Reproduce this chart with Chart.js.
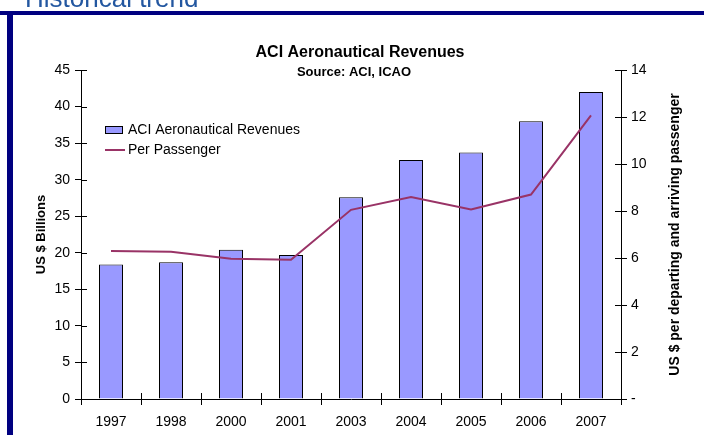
<!DOCTYPE html>
<html>
<head>
<meta charset="utf-8">
<title>ACI Aeronautical Revenues</title>
<script src="https://cdn.jsdelivr.net/npm/chart.js@4/dist/chart.umd.min.js"></script>
<style>
  body { margin: 0; background: #fff; }
  #wrap { position: relative; width: 704px; height: 435px; overflow: hidden; font-family: "Liberation Sans", Arial, sans-serif; }
  #head { position: absolute; left: 25px; top: -15px; font-size: 26px; line-height: 26px; color: #2357a0; white-space: nowrap; }
  #hbar { position: absolute; left: 0; top: 11px; width: 704px; height: 4px; background: #000080; }
  #vbar { position: absolute; left: 7px; top: 11px; width: 6px; height: 424px; background: #000080; }
  #chart { position: absolute; left: 0; top: 0; }
</style>
</head>
<body>
<div id="wrap">
  <canvas id="chart" width="704" height="435"></canvas>
  <div id="head">Historical trend</div>
  <div id="hbar"></div>
  <div id="vbar"></div>
</div>
<script>
// chart data
var years = ['1997', '1998', '2000', '2001', '2003', '2004', '2005', '2006', '2007'];
var revenues = [18.4, 18.7, 20.4, 19.7, 27.6, 32.7, 33.7, 38.0, 42.0];      // US $ billions
var perPassenger = [6.3, 6.27, 5.97, 5.93, 8.05, 8.59, 8.06, 8.7, 12.07];    // US $ per passenger
var leftTicks = [0, 45, 5];   // min, max, step
var rightTicks = [0, 14, 2];

var chartTitle = 'ACI Aeronautical Revenues';
var chartSubtitle = 'Source: ACI, ICAO';
var leftTitle = 'US $ Billions';
var rightTitle = 'US $ per departing and arriving passenger';

var FONT = '"Liberation Sans", Arial, sans-serif';
var TICK = 6;

// titles, legend and right axis title are drawn in the plot like Excel does
var decorations = {
    id: 'decorations',
    afterDatasetsDraw: function(chart) {
        var ctx = chart.ctx;
        var a = chart.chartArea;
        var x = chart.scales.x, y = chart.scales.y, y1 = chart.scales.y1;

        ctx.save();
        ctx.strokeStyle = '#000';
        ctx.lineWidth = 1;
        ctx.beginPath();
        // inside half of the tick marks
        y.ticks.forEach(function(t, i) {
            var p = Math.round(y.getPixelForTick(i)) + 0.5;
            ctx.moveTo(a.left, p); ctx.lineTo(a.left + TICK, p);
        });
        y1.ticks.forEach(function(t, i) {
            var p = Math.round(y1.getPixelForTick(i)) + 0.5;
            ctx.moveTo(a.right, p); ctx.lineTo(a.right - TICK, p);
        });
        var half = (x.getPixelForTick(1) - x.getPixelForTick(0)) / 2;
        for (var i = 0; i <= x.ticks.length; i++) {
            var p = Math.round(x.getPixelForTick(0) - half + i * half * 2) + 0.5;
            ctx.moveTo(p, a.bottom); ctx.lineTo(p, a.bottom - TICK);
        }
        ctx.stroke();

        // title
        ctx.fillStyle = '#000';
        ctx.textAlign = 'center';
        ctx.textBaseline = 'middle';
        ctx.font = 'bold 16px ' + FONT;
        ctx.fillText(chartTitle, 360, 53);
        ctx.font = 'bold 13px ' + FONT;
        ctx.fillText(chartSubtitle, 354, 72);

        // right axis title, reading upwards
        ctx.save();
        ctx.translate(675, (a.top + a.bottom) / 2);
        ctx.rotate(-Math.PI / 2);
        ctx.font = 'bold 14px ' + FONT;
        ctx.fillText(rightTitle, 0, 0);
        ctx.restore();

        // legend
        var ds = chart.data.datasets;
        var lx = a.left + 24, ly = a.top + 60;
        ctx.textAlign = 'left';
        ctx.font = '14px ' + FONT;
        ctx.fillStyle = ds[0].backgroundColor;
        ctx.fillRect(lx, ly - 3.5, 18, 7);
        ctx.strokeStyle = ds[0].borderColor;
        ctx.strokeRect(lx + 0.5, ly - 3.5, 17, 7);
        ctx.fillStyle = '#000';
        ctx.fillText(ds[0].label, lx + 23, ly);
        ly += 20;
        ctx.strokeStyle = ds[1].borderColor;
        ctx.lineWidth = 2;
        ctx.beginPath();
        ctx.moveTo(lx, ly); ctx.lineTo(lx + 20, ly);
        ctx.stroke();
        ctx.fillText(ds[1].label, lx + 23, ly);
        ctx.restore();
    }
};

var ctx = document.getElementById('chart').getContext('2d');
new Chart(ctx, {
    type: 'bar',
    data: {
        labels: years,
        datasets: [{
            label: 'ACI Aeronautical Revenues',
            data: revenues,
            backgroundColor: '#9999ff',
            borderColor: '#000000',
            borderWidth: 1,
            categoryPercentage: 1,
            barPercentage: 0.4,
            yAxisID: 'y',
            order: 1
        }, {
            label: 'Per Passenger',
            type: 'line',
            data: perPassenger,
            borderColor: '#993366',
            borderWidth: 2,
            pointRadius: 0,
            tension: 0,
            fill: false,
            yAxisID: 'y1',
            order: 0
        }]
    },
    options: {
        responsive: false,
        animation: false,
        layout: { padding: { top: 70, left: 0, right: 0, bottom: 0 } },
        plugins: {
            legend: { display: false },
            tooltip: { enabled: false }
        },
        scales: {
            x: {
                grid: { display: true, drawOnChartArea: false, drawTicks: true, tickLength: TICK, color: '#000', offset: true },
                border: { color: '#000' },
                ticks: { color: '#000', font: { family: FONT, size: 14 }, padding: 9, maxRotation: 0 },
                afterFit: function(s) { s.height = 36; }
            },
            y: {
                position: 'left',
                min: leftTicks[0],
                max: leftTicks[1],
                grid: { drawOnChartArea: false, drawTicks: true, tickLength: TICK, color: '#000' },
                border: { color: '#000' },
                ticks: { stepSize: leftTicks[2], color: '#000', font: { family: FONT, size: 14 }, padding: 5 },
                title: { display: true, text: leftTitle, color: '#000', font: { family: FONT, size: 13, weight: 'bold' }, padding: { top: 34, bottom: 0 } },
                afterFit: function(s) { s.width = 81; }
            },
            y1: {
                position: 'right',
                min: rightTicks[0],
                max: rightTicks[1],
                grid: { drawOnChartArea: false, drawTicks: true, tickLength: TICK, color: '#000' },
                border: { color: '#000' },
                ticks: {
                    stepSize: rightTicks[2], color: '#000', font: { family: FONT, size: 14 }, padding: 4,
                    callback: function(v) { return v === 0 ? '-' : v; }
                },
                afterFit: function(s) { s.width = 83; }
            }
        }
    },
    plugins: [decorations]
});
</script>
</body>
</html>
